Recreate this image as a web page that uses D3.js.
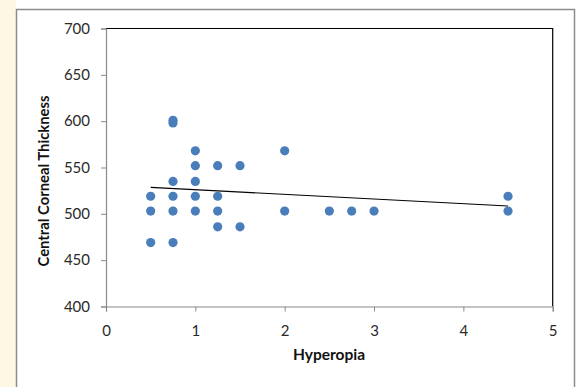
<!DOCTYPE html>
<html><head><meta charset="utf-8">
<script src="https://cdn.jsdelivr.net/npm/d3@7"></script>
<style>
html,body{margin:0;padding:0;background:#fff;}
svg{display:block;}
</style></head>
<body>
<script>
const hyperopia = [0.5,0.5,0.5, 0.75,0.75,0.75,0.75,0.75,0.75, 1,1,1,1,1, 1.25,1.25,1.25,1.25, 1.5,1.5, 2,2, 2.5, 2.75, 3, 4.5,4.5];
const thickness = [519,503,469, 598,601,535,519,503,469, 568,552,535,519,503, 552,519,503,486, 552,486, 568,503, 503, 503, 503, 519,503];
const trendX = [0.5, 4.5];
const trendY = [528.5, 508.5];
const xTicks = [0,1,2,3,4,5];
const yTicks = [400,450,500,550,600,650,700];

const W = 577, H = 387;
const svg = d3.select("body").append("svg").attr("width", W).attr("height", H);

svg.append("rect").attr("x",0).attr("y",0).attr("width",16).attr("height",H).attr("fill","#fdf7e4");
svg.append("rect").attr("x",16.5).attr("y",9.5).attr("width",558).attr("height",390)
  .attr("fill","#fff").attr("stroke","#8c8c8c").attr("stroke-width",1.5);

const x = d3.scaleLinear().domain([0,5]).range([106,552.7]);
const y = d3.scaleLinear().domain([400,700]).range([306.5,28.5]);

svg.append("path").attr("d",`M${x(0)},${y(700)}H${x(5)}V${y(400)}`)
  .attr("fill","none").attr("stroke","#000").attr("stroke-width",1.2);

const font = "Lato, 'Open Sans', sans-serif";

const xAxis = svg.append("g").attr("transform",`translate(0,${y(400)})`)
  .call(d3.axisBottom(x).tickValues(xTicks).tickSize(5).tickFormat(d3.format("d")));
const yAxis = svg.append("g").attr("transform",`translate(${x(0)},0)`)
  .call(d3.axisLeft(y).tickValues(yTicks).tickSize(5).tickFormat(d3.format("d")));
[xAxis,yAxis].forEach(g=>{
  g.select(".domain").attr("stroke","#8a8a8a").attr("stroke-width",1.2);
  g.selectAll(".tick line").attr("stroke","#8a8a8a");
  g.selectAll("text").attr("fill","#2a2a2a").style("font-family",font).style("font-size","15px");
});
xAxis.selectAll("text").attr("dy","0").attr("y",29);
yAxis.selectAll("text").attr("x",-16);

svg.append("line")
  .attr("x1",x(trendX[0])).attr("y1",y(trendY[0]))
  .attr("x2",x(trendX[1])).attr("y2",y(trendY[1]))
  .attr("stroke","#000").attr("stroke-width",1.1);

svg.append("g").selectAll("circle").data(hyperopia.map((d,i)=>[d,thickness[i]]))
  .join("circle")
  .attr("cx",d=>x(d[0])).attr("cy",d=>y(d[1])).attr("r",4.6)
  .attr("fill","#4a7ebb");

svg.append("text").attr("x",329).attr("y",360).attr("text-anchor","middle")
  .style("font-family",font).style("font-weight","bold").style("font-size","15.5px").attr("fill","#111")
  .text("Hyperopia");
svg.append("text").attr("transform","translate(49,181) rotate(-90)").attr("text-anchor","middle")
  .style("font-family",font).style("font-weight","bold").style("font-size","14.8px").attr("fill","#111")
  .text("Central Corneal Thickness");
</script>
</body></html>
